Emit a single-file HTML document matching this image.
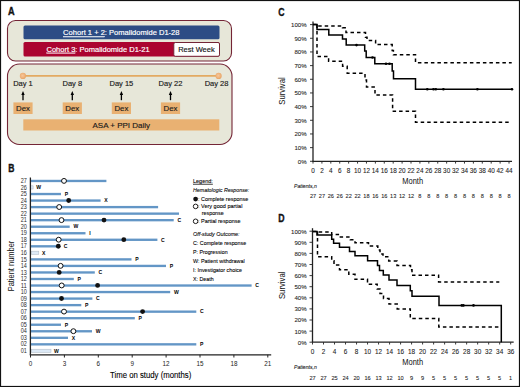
<!DOCTYPE html><html><head><meta charset="utf-8"><style>html,body{margin:0;padding:0;background:#fff;}svg{display:block;}text{font-family:"Liberation Sans", sans-serif;}</style></head><body>
<svg width="520" height="387" viewBox="0 0 520 387">
<rect x="0" y="0" width="520" height="387" fill="#fff"/>
<text x="8.1" y="14.7" font-size="10.2" fill="#111" text-anchor="start" font-weight="bold" font-style="normal" textLength="6.6" lengthAdjust="spacingAndGlyphs" stroke="#111" stroke-width="0.35">A</text>
<rect x="7.5" y="20.5" width="224" height="40.5" rx="8" fill="#e7e7d9" stroke="#742536" stroke-width="1.1"/>
<rect x="23.5" y="25.4" width="196" height="13.9" rx="1.5" fill="#2d4c85"/>
<rect x="23.5" y="42" width="196" height="14.5" rx="1.5" fill="#ab0430"/>
<rect x="173.8" y="42.5" width="45.7" height="13.8" rx="1.5" fill="#fff" stroke="#742536" stroke-width="1"/>
<text x="63.1" y="35.3" font-size="8.1" fill="#fff" stroke="#fff" stroke-width="0.18" textLength="116.4" lengthAdjust="spacingAndGlyphs"><tspan text-decoration="underline">Cohort 1 + 2</tspan>: Pomalidomide D1-28</text>
<text x="46.5" y="51.7" font-size="8.1" fill="#fff" stroke="#fff" stroke-width="0.18" textLength="103.2" lengthAdjust="spacingAndGlyphs"><tspan text-decoration="underline">Cohort 3</tspan>: Pomalidomide D1-21</text>
<text x="178.2" y="52.3" font-size="8.1" fill="#111" text-anchor="start" font-weight="normal" font-style="normal" textLength="36.5" lengthAdjust="spacingAndGlyphs" stroke="#111" stroke-width="0.15">Rest Week</text>
<rect x="7.5" y="64" width="224.5" height="80.5" rx="12" fill="#e7e7d9" stroke="#742536" stroke-width="1.1"/>
<defs><radialGradient id="dg" cx="0.45" cy="0.45" r="0.6"><stop offset="0" stop-color="#f6c79c"/><stop offset="0.6" stop-color="#efb27a"/><stop offset="1" stop-color="#e4a060"/></radialGradient></defs>
<line x1="23" y1="75.8" x2="218.7" y2="75.8" stroke="#e3aa62" stroke-width="1.7"/>
<circle cx="22.9" cy="75.9" r="3.1" fill="url(#dg)"/>
<circle cx="218.6" cy="75.9" r="3.1" fill="url(#dg)"/>
<text x="23" y="86.3" font-size="7.5" fill="#1a1a1a" text-anchor="middle" font-weight="normal" font-style="normal" stroke="#1a1a1a" stroke-width="0.15">Day 1</text>
<line x1="23" y1="100.2" x2="23" y2="94" stroke="#000" stroke-width="1.3"/>
<path d="M21.3,95 L23,90.9 L24.7,95 Z" fill="#000"/>
<rect x="13.4" y="102.4" width="19.2" height="11.6" fill="#e9b172"/>
<text x="23" y="110.9" font-size="7.8" fill="#1a1a1a" text-anchor="middle" font-weight="normal" font-style="normal" stroke="#1a1a1a" stroke-width="0.15">Dex</text>
<text x="72.3" y="86.3" font-size="7.5" fill="#1a1a1a" text-anchor="middle" font-weight="normal" font-style="normal" stroke="#1a1a1a" stroke-width="0.15">Day 8</text>
<line x1="72.3" y1="100.2" x2="72.3" y2="94" stroke="#000" stroke-width="1.3"/>
<path d="M70.6,95 L72.3,90.9 L74.0,95 Z" fill="#000"/>
<rect x="62.699999999999996" y="102.4" width="19.2" height="11.6" fill="#e9b172"/>
<text x="72.3" y="110.9" font-size="7.8" fill="#1a1a1a" text-anchor="middle" font-weight="normal" font-style="normal" stroke="#1a1a1a" stroke-width="0.15">Dex</text>
<text x="121.4" y="86.3" font-size="7.5" fill="#1a1a1a" text-anchor="middle" font-weight="normal" font-style="normal" stroke="#1a1a1a" stroke-width="0.15">Day 15</text>
<line x1="121.4" y1="100.2" x2="121.4" y2="94" stroke="#000" stroke-width="1.3"/>
<path d="M119.7,95 L121.4,90.9 L123.10000000000001,95 Z" fill="#000"/>
<rect x="111.80000000000001" y="102.4" width="19.2" height="11.6" fill="#e9b172"/>
<text x="121.4" y="110.9" font-size="7.8" fill="#1a1a1a" text-anchor="middle" font-weight="normal" font-style="normal" stroke="#1a1a1a" stroke-width="0.15">Dex</text>
<text x="170.5" y="86.3" font-size="7.5" fill="#1a1a1a" text-anchor="middle" font-weight="normal" font-style="normal" stroke="#1a1a1a" stroke-width="0.15">Day 22</text>
<line x1="170.5" y1="100.2" x2="170.5" y2="94" stroke="#000" stroke-width="1.3"/>
<path d="M168.8,95 L170.5,90.9 L172.2,95 Z" fill="#000"/>
<rect x="160.9" y="102.4" width="19.2" height="11.6" fill="#e9b172"/>
<text x="170.5" y="110.9" font-size="7.8" fill="#1a1a1a" text-anchor="middle" font-weight="normal" font-style="normal" stroke="#1a1a1a" stroke-width="0.15">Dex</text>
<text x="216.6" y="86.3" font-size="7.5" fill="#1a1a1a" text-anchor="middle" font-weight="normal" font-style="normal" stroke="#1a1a1a" stroke-width="0.15">Day 28</text>
<rect x="23.3" y="119.3" width="196" height="11.2" fill="#e9b172"/>
<text x="121.3" y="128.3" font-size="8" fill="#1a1a1a" text-anchor="middle" font-weight="normal" font-style="normal" stroke="#1a1a1a" stroke-width="0.15">ASA + PPI Daily</text>
<text x="8.3" y="171.5" font-size="10.2" fill="#111" text-anchor="start" font-weight="bold" font-style="normal" textLength="6.2" lengthAdjust="spacingAndGlyphs" stroke="#111" stroke-width="0.35">B</text>
<text x="26.9" y="183.09" font-size="6.6" fill="#2a2a2a" text-anchor="end" font-weight="normal" font-style="normal" textLength="6.1" lengthAdjust="spacingAndGlyphs" >27</text>
<rect x="31.0" y="179.79000000000002" width="75.4" height="2.35" fill="#6396c6"/>
<circle cx="64" cy="180.89000000000001" r="2.45" fill="#fff" stroke="#111" stroke-width="1.0"/>
<text x="26.9" y="189.625" font-size="6.6" fill="#2a2a2a" text-anchor="end" font-weight="normal" font-style="normal" textLength="6.1" lengthAdjust="spacingAndGlyphs" >26</text>
<rect x="30.8" y="185.82500000000002" width="2.2999999999999963" height="3.2" fill="#dce9f6" stroke="#aab6c2" stroke-width="0.5"/>
<text x="36.2" y="189.275" font-size="5.1" fill="#000" text-anchor="start" font-weight="bold" font-style="normal" >W</text>
<text x="26.9" y="196.16" font-size="6.6" fill="#2a2a2a" text-anchor="end" font-weight="normal" font-style="normal" textLength="6.1" lengthAdjust="spacingAndGlyphs" >25</text>
<rect x="31.0" y="192.86" width="30.0" height="2.35" fill="#6396c6"/>
<text x="64.7" y="195.81" font-size="5.1" fill="#000" text-anchor="start" font-weight="bold" font-style="normal" >P</text>
<text x="26.9" y="202.695" font-size="6.6" fill="#2a2a2a" text-anchor="end" font-weight="normal" font-style="normal" textLength="6.1" lengthAdjust="spacingAndGlyphs" >24</text>
<rect x="31.0" y="199.395" width="69.6" height="2.35" fill="#6396c6"/>
<circle cx="68.7" cy="200.495" r="2.4" fill="#111"/>
<text x="104.3" y="202.345" font-size="5.1" fill="#000" text-anchor="start" font-weight="bold" font-style="normal" >X</text>
<text x="26.9" y="209.23" font-size="6.6" fill="#2a2a2a" text-anchor="end" font-weight="normal" font-style="normal" textLength="6.1" lengthAdjust="spacingAndGlyphs" >23</text>
<rect x="31.0" y="205.93" width="127.1" height="2.35" fill="#6396c6"/>
<circle cx="59.2" cy="207.03" r="2.45" fill="#fff" stroke="#111" stroke-width="1.0"/>
<text x="26.9" y="215.765" font-size="6.6" fill="#2a2a2a" text-anchor="end" font-weight="normal" font-style="normal" textLength="6.1" lengthAdjust="spacingAndGlyphs" >22</text>
<rect x="31.0" y="212.465" width="148.0" height="2.35" fill="#6396c6"/>
<text x="26.9" y="222.3" font-size="6.6" fill="#2a2a2a" text-anchor="end" font-weight="normal" font-style="normal" textLength="6.1" lengthAdjust="spacingAndGlyphs" >21</text>
<rect x="31.0" y="219.00000000000003" width="142.7" height="2.35" fill="#6396c6"/>
<circle cx="61.5" cy="220.10000000000002" r="2.45" fill="#fff" stroke="#111" stroke-width="1.0"/>
<circle cx="104" cy="220.10000000000002" r="2.4" fill="#111"/>
<text x="177.39999999999998" y="221.95000000000002" font-size="5.1" fill="#000" text-anchor="start" font-weight="bold" font-style="normal" >C</text>
<text x="26.9" y="228.83499999999998" font-size="6.6" fill="#2a2a2a" text-anchor="end" font-weight="normal" font-style="normal" textLength="6.1" lengthAdjust="spacingAndGlyphs" >20</text>
<rect x="31.0" y="225.535" width="38.7" height="2.35" fill="#6396c6"/>
<text x="73.4" y="228.48499999999999" font-size="5.1" fill="#000" text-anchor="start" font-weight="bold" font-style="normal" >W</text>
<text x="26.9" y="235.37" font-size="6.6" fill="#2a2a2a" text-anchor="end" font-weight="normal" font-style="normal" textLength="6.1" lengthAdjust="spacingAndGlyphs" >19</text>
<rect x="31.0" y="232.07000000000002" width="54.5" height="2.35" fill="#6396c6"/>
<text x="89.2" y="235.02" font-size="5.1" fill="#000" text-anchor="start" font-weight="bold" font-style="normal" >I</text>
<text x="26.9" y="241.905" font-size="6.6" fill="#2a2a2a" text-anchor="end" font-weight="normal" font-style="normal" textLength="6.1" lengthAdjust="spacingAndGlyphs" >18</text>
<rect x="31.0" y="238.60500000000002" width="126.4" height="2.35" fill="#6396c6"/>
<circle cx="58.7" cy="239.705" r="2.45" fill="#fff" stroke="#111" stroke-width="1.0"/>
<circle cx="123.8" cy="239.705" r="2.4" fill="#111"/>
<text x="161.1" y="241.555" font-size="5.1" fill="#000" text-anchor="start" font-weight="bold" font-style="normal" >C</text>
<text x="26.9" y="248.44" font-size="6.6" fill="#2a2a2a" text-anchor="end" font-weight="normal" font-style="normal" textLength="6.1" lengthAdjust="spacingAndGlyphs" >17</text>
<rect x="31.0" y="245.14000000000001" width="26.6" height="2.35" fill="#6396c6"/>
<circle cx="58.3" cy="246.24" r="2.4" fill="#111"/>
<text x="63.8" y="248.09" font-size="5.1" fill="#000" text-anchor="start" font-weight="bold" font-style="normal" >C</text>
<text x="26.9" y="254.975" font-size="6.6" fill="#2a2a2a" text-anchor="end" font-weight="normal" font-style="normal" textLength="6.1" lengthAdjust="spacingAndGlyphs" >16</text>
<rect x="31.5" y="251.175" width="7.3" height="3.2" fill="#dce9f6" stroke="#aab6c2" stroke-width="0.5"/>
<text x="42" y="254.625" font-size="5.1" fill="#000" text-anchor="start" font-weight="bold" font-style="normal" >X</text>
<text x="26.9" y="261.51" font-size="6.6" fill="#2a2a2a" text-anchor="end" font-weight="normal" font-style="normal" textLength="6.1" lengthAdjust="spacingAndGlyphs" >15</text>
<rect x="31.0" y="258.21" width="100.5" height="2.35" fill="#6396c6"/>
<text x="135.2" y="261.16" font-size="5.1" fill="#000" text-anchor="start" font-weight="bold" font-style="normal" >P</text>
<text x="26.9" y="268.045" font-size="6.6" fill="#2a2a2a" text-anchor="end" font-weight="normal" font-style="normal" textLength="6.1" lengthAdjust="spacingAndGlyphs" >14</text>
<rect x="31.0" y="264.745" width="135.0" height="2.35" fill="#6396c6"/>
<circle cx="60.6" cy="265.845" r="2.45" fill="#fff" stroke="#111" stroke-width="1.0"/>
<text x="169.7" y="267.69500000000005" font-size="5.1" fill="#000" text-anchor="start" font-weight="bold" font-style="normal" >P</text>
<text x="26.9" y="274.58" font-size="6.6" fill="#2a2a2a" text-anchor="end" font-weight="normal" font-style="normal" textLength="6.1" lengthAdjust="spacingAndGlyphs" >13</text>
<rect x="31.0" y="271.28" width="63.8" height="2.35" fill="#6396c6"/>
<circle cx="59.2" cy="272.38" r="2.4" fill="#111"/>
<text x="98.5" y="274.23" font-size="5.1" fill="#000" text-anchor="start" font-weight="bold" font-style="normal" >C</text>
<text x="26.9" y="281.115" font-size="6.6" fill="#2a2a2a" text-anchor="end" font-weight="normal" font-style="normal" textLength="6.1" lengthAdjust="spacingAndGlyphs" >12</text>
<rect x="31.0" y="277.815" width="42.8" height="2.35" fill="#6396c6"/>
<text x="77.5" y="280.76500000000004" font-size="5.1" fill="#000" text-anchor="start" font-weight="bold" font-style="normal" >P</text>
<text x="26.9" y="287.65000000000003" font-size="6.6" fill="#2a2a2a" text-anchor="end" font-weight="normal" font-style="normal" textLength="6.1" lengthAdjust="spacingAndGlyphs" >11</text>
<rect x="31.0" y="284.35" width="220.6" height="2.35" fill="#6396c6"/>
<circle cx="61.7" cy="285.45000000000005" r="2.45" fill="#fff" stroke="#111" stroke-width="1.0"/>
<circle cx="97.6" cy="285.45000000000005" r="2.4" fill="#111"/>
<text x="255.29999999999998" y="287.30000000000007" font-size="5.1" fill="#000" text-anchor="start" font-weight="bold" font-style="normal" >C</text>
<text x="26.9" y="294.185" font-size="6.6" fill="#2a2a2a" text-anchor="end" font-weight="normal" font-style="normal" textLength="6.1" lengthAdjust="spacingAndGlyphs" >10</text>
<rect x="31.0" y="290.885" width="139.2" height="2.35" fill="#6396c6"/>
<text x="173.89999999999998" y="293.83500000000004" font-size="5.1" fill="#000" text-anchor="start" font-weight="bold" font-style="normal" >W</text>
<text x="26.9" y="300.71999999999997" font-size="6.6" fill="#2a2a2a" text-anchor="end" font-weight="normal" font-style="normal" textLength="6.1" lengthAdjust="spacingAndGlyphs" >09</text>
<rect x="31.0" y="297.41999999999996" width="61.400000000000006" height="2.35" fill="#6396c6"/>
<circle cx="61.5" cy="298.52" r="2.4" fill="#111"/>
<text x="96.10000000000001" y="300.37" font-size="5.1" fill="#000" text-anchor="start" font-weight="bold" font-style="normal" >C</text>
<text x="26.9" y="307.255" font-size="6.6" fill="#2a2a2a" text-anchor="end" font-weight="normal" font-style="normal" textLength="6.1" lengthAdjust="spacingAndGlyphs" >08</text>
<rect x="31.0" y="303.955" width="50.3" height="2.35" fill="#6396c6"/>
<text x="85.0" y="306.90500000000003" font-size="5.1" fill="#000" text-anchor="start" font-weight="bold" font-style="normal" >P</text>
<text x="26.9" y="313.79" font-size="6.6" fill="#2a2a2a" text-anchor="end" font-weight="normal" font-style="normal" textLength="6.1" lengthAdjust="spacingAndGlyphs" >07</text>
<rect x="31.0" y="310.49" width="165.3" height="2.35" fill="#6396c6"/>
<circle cx="64" cy="311.59000000000003" r="2.45" fill="#fff" stroke="#111" stroke-width="1.0"/>
<circle cx="142.6" cy="311.59000000000003" r="2.4" fill="#111"/>
<text x="200.0" y="313.44000000000005" font-size="5.1" fill="#000" text-anchor="start" font-weight="bold" font-style="normal" >C</text>
<text x="26.9" y="320.325" font-size="6.6" fill="#2a2a2a" text-anchor="end" font-weight="normal" font-style="normal" textLength="6.1" lengthAdjust="spacingAndGlyphs" >06</text>
<rect x="31.0" y="317.025" width="103.80000000000001" height="2.35" fill="#6396c6"/>
<text x="138.5" y="319.975" font-size="5.1" fill="#000" text-anchor="start" font-weight="bold" font-style="normal" >P</text>
<text x="26.9" y="326.86" font-size="6.6" fill="#2a2a2a" text-anchor="end" font-weight="normal" font-style="normal" textLength="6.1" lengthAdjust="spacingAndGlyphs" >05</text>
<rect x="31.0" y="323.56" width="30.0" height="2.35" fill="#6396c6"/>
<text x="64.7" y="326.51000000000005" font-size="5.1" fill="#000" text-anchor="start" font-weight="bold" font-style="normal" >P</text>
<text x="26.9" y="333.395" font-size="6.6" fill="#2a2a2a" text-anchor="end" font-weight="normal" font-style="normal" textLength="6.1" lengthAdjust="spacingAndGlyphs" >04</text>
<rect x="31.0" y="330.09499999999997" width="61.0" height="2.35" fill="#6396c6"/>
<circle cx="73.4" cy="331.195" r="2.45" fill="#fff" stroke="#111" stroke-width="1.0"/>
<text x="95.7" y="333.045" font-size="5.1" fill="#000" text-anchor="start" font-weight="bold" font-style="normal" >W</text>
<text x="26.9" y="339.93" font-size="6.6" fill="#2a2a2a" text-anchor="end" font-weight="normal" font-style="normal" textLength="6.1" lengthAdjust="spacingAndGlyphs" >03</text>
<rect x="31.0" y="336.63" width="37.0" height="2.35" fill="#6396c6"/>
<text x="71.7" y="339.58000000000004" font-size="5.1" fill="#000" text-anchor="start" font-weight="bold" font-style="normal" >X</text>
<text x="26.9" y="346.465" font-size="6.6" fill="#2a2a2a" text-anchor="end" font-weight="normal" font-style="normal" textLength="6.1" lengthAdjust="spacingAndGlyphs" >02</text>
<rect x="31.0" y="343.16499999999996" width="165.3" height="2.35" fill="#6396c6"/>
<text x="200.0" y="346.115" font-size="5.1" fill="#000" text-anchor="start" font-weight="bold" font-style="normal" >P</text>
<text x="26.9" y="353.0" font-size="6.6" fill="#2a2a2a" text-anchor="end" font-weight="normal" font-style="normal" textLength="6.1" lengthAdjust="spacingAndGlyphs" >01</text>
<rect x="31.4" y="349.2" width="19.600000000000005" height="3.2" fill="#dce9f6" stroke="#aab6c2" stroke-width="0.5"/>
<text x="54" y="352.65000000000003" font-size="5.1" fill="#000" text-anchor="start" font-weight="bold" font-style="normal" >W</text>
<line x1="30.4" y1="177.5" x2="30.4" y2="354.8" stroke="#222" stroke-width="1.3"/>
<line x1="29.8" y1="354.8" x2="271.2" y2="354.8" stroke="#222" stroke-width="1.3"/>
<line x1="30.5" y1="354.8" x2="30.5" y2="357.5" stroke="#222" stroke-width="1"/>
<text x="30.5" y="366" font-size="6.3" fill="#222" text-anchor="middle" font-weight="normal" font-style="normal" >0</text>
<line x1="64.4" y1="354.8" x2="64.4" y2="357.5" stroke="#222" stroke-width="1"/>
<text x="64.4" y="366" font-size="6.3" fill="#222" text-anchor="middle" font-weight="normal" font-style="normal" >3</text>
<line x1="98.3" y1="354.8" x2="98.3" y2="357.5" stroke="#222" stroke-width="1"/>
<text x="98.3" y="366" font-size="6.3" fill="#222" text-anchor="middle" font-weight="normal" font-style="normal" >6</text>
<line x1="132.2" y1="354.8" x2="132.2" y2="357.5" stroke="#222" stroke-width="1"/>
<text x="132.2" y="366" font-size="6.3" fill="#222" text-anchor="middle" font-weight="normal" font-style="normal" >9</text>
<line x1="166.1" y1="354.8" x2="166.1" y2="357.5" stroke="#222" stroke-width="1"/>
<text x="166.1" y="366" font-size="6.3" fill="#222" text-anchor="middle" font-weight="normal" font-style="normal" >12</text>
<line x1="200.0" y1="354.8" x2="200.0" y2="357.5" stroke="#222" stroke-width="1"/>
<text x="200.0" y="366" font-size="6.3" fill="#222" text-anchor="middle" font-weight="normal" font-style="normal" >15</text>
<line x1="233.89999999999998" y1="354.8" x2="233.89999999999998" y2="357.5" stroke="#222" stroke-width="1"/>
<text x="233.89999999999998" y="366" font-size="6.3" fill="#222" text-anchor="middle" font-weight="normal" font-style="normal" >18</text>
<line x1="267.79999999999995" y1="354.8" x2="267.79999999999995" y2="357.5" stroke="#222" stroke-width="1"/>
<text x="267.79999999999995" y="366" font-size="6.3" fill="#222" text-anchor="middle" font-weight="normal" font-style="normal" >21</text>
<text x="110" y="378" font-size="8.3" fill="#000" text-anchor="start" font-weight="normal" font-style="normal" textLength="81.3" lengthAdjust="spacingAndGlyphs" stroke="#000" stroke-width="0.1">Time on study (months)</text>
<text x="0" y="0" font-size="8.9" fill="#111" text-anchor="middle" textLength="50.7" lengthAdjust="spacingAndGlyphs" transform="translate(14.3,266) rotate(-90)">Patient number</text>
<text x="193" y="182.9" font-size="6.2" fill="#000" stroke="#000" stroke-width="0.1" text-decoration="underline" textLength="19.9" lengthAdjust="spacingAndGlyphs">Legend:</text>
<text x="193" y="191.7" font-size="6.2" fill="#000" text-anchor="start" font-weight="normal" font-style="italic" textLength="56.3" lengthAdjust="spacingAndGlyphs" stroke="#000" stroke-width="0.1">Hematologic Response:</text>
<circle cx="195.6" cy="199.1" r="2.4" fill="#111"/>
<text x="198" y="201.1" font-size="6.2" fill="#000" text-anchor="start" font-weight="normal" font-style="normal" textLength="50.3" lengthAdjust="spacingAndGlyphs" stroke="#000" stroke-width="0.1">: Complete response</text>
<circle cx="195.6" cy="206.4" r="2.3" fill="#fff" stroke="#111" stroke-width="0.95"/>
<text x="198" y="208.4" font-size="6.2" fill="#000" text-anchor="start" font-weight="normal" font-style="normal" textLength="44.4" lengthAdjust="spacingAndGlyphs" stroke="#000" stroke-width="0.1">: Very good partial</text>
<text x="201.7" y="215.1" font-size="6.2" fill="#000" text-anchor="start" font-weight="normal" font-style="normal" textLength="22.1" lengthAdjust="spacingAndGlyphs" stroke="#000" stroke-width="0.1">response</text>
<circle cx="195.6" cy="221.3" r="2.3" fill="#fff" stroke="#111" stroke-width="0.95"/>
<text x="198" y="223.3" font-size="6.2" fill="#000" text-anchor="start" font-weight="normal" font-style="normal" textLength="42.5" lengthAdjust="spacingAndGlyphs" stroke="#000" stroke-width="0.1">: Partial response</text>
<text x="193" y="236.3" font-size="6.2" fill="#000" text-anchor="start" font-weight="normal" font-style="italic" textLength="46.6" lengthAdjust="spacingAndGlyphs" stroke="#000" stroke-width="0.1">Off-study Outcome:</text>
<text x="193" y="245.3" font-size="6.2" fill="#000" text-anchor="start" font-weight="normal" font-style="normal" textLength="53.2" lengthAdjust="spacingAndGlyphs" stroke="#000" stroke-width="0.1">C: Complete response</text>
<text x="193" y="254.4" font-size="6.2" fill="#000" text-anchor="start" font-weight="normal" font-style="normal" textLength="34.6" lengthAdjust="spacingAndGlyphs" stroke="#000" stroke-width="0.1">P: Progression</text>
<text x="193" y="263.1" font-size="6.2" fill="#000" text-anchor="start" font-weight="normal" font-style="normal" textLength="51.7" lengthAdjust="spacingAndGlyphs" stroke="#000" stroke-width="0.1">W: Patient withdrawal</text>
<text x="193" y="272" font-size="6.2" fill="#000" text-anchor="start" font-weight="normal" font-style="normal" textLength="49" lengthAdjust="spacingAndGlyphs" stroke="#000" stroke-width="0.1">I: Investigator choice</text>
<text x="193" y="281" font-size="6.2" fill="#000" text-anchor="start" font-weight="normal" font-style="normal" textLength="20.7" lengthAdjust="spacingAndGlyphs" stroke="#000" stroke-width="0.1">X: Death</text>
<text x="278.2" y="15.5" font-size="10.2" fill="#111" text-anchor="start" font-weight="bold" font-style="normal" textLength="6.3" lengthAdjust="spacingAndGlyphs" stroke="#111" stroke-width="0.35">C</text>
<line x1="313" y1="21.6" x2="313" y2="161.3" stroke="#222" stroke-width="1.3"/>
<line x1="312.4" y1="161.3" x2="512.02" y2="161.3" stroke="#222" stroke-width="1.3"/>
<line x1="310" y1="161.3" x2="313" y2="161.3" stroke="#222" stroke-width="0.9"/>
<text x="306.6" y="163.70000000000002" font-size="6.1" fill="#222" text-anchor="end" font-weight="normal" font-style="normal" stroke="#222" stroke-width="0.08">0%</text>
<line x1="310" y1="147.63" x2="313" y2="147.63" stroke="#222" stroke-width="0.9"/>
<text x="306.6" y="150.03" font-size="6.1" fill="#222" text-anchor="end" font-weight="normal" font-style="normal" stroke="#222" stroke-width="0.08">10%</text>
<line x1="310" y1="133.96" x2="313" y2="133.96" stroke="#222" stroke-width="0.9"/>
<text x="306.6" y="136.36" font-size="6.1" fill="#222" text-anchor="end" font-weight="normal" font-style="normal" stroke="#222" stroke-width="0.08">20%</text>
<line x1="310" y1="120.29" x2="313" y2="120.29" stroke="#222" stroke-width="0.9"/>
<text x="306.6" y="122.69000000000001" font-size="6.1" fill="#222" text-anchor="end" font-weight="normal" font-style="normal" stroke="#222" stroke-width="0.08">30%</text>
<line x1="310" y1="106.62" x2="313" y2="106.62" stroke="#222" stroke-width="0.9"/>
<text x="306.6" y="109.02000000000001" font-size="6.1" fill="#222" text-anchor="end" font-weight="normal" font-style="normal" stroke="#222" stroke-width="0.08">40%</text>
<line x1="310" y1="92.95" x2="313" y2="92.95" stroke="#222" stroke-width="0.9"/>
<text x="306.6" y="95.35000000000001" font-size="6.1" fill="#222" text-anchor="end" font-weight="normal" font-style="normal" stroke="#222" stroke-width="0.08">50%</text>
<line x1="310" y1="79.28" x2="313" y2="79.28" stroke="#222" stroke-width="0.9"/>
<text x="306.6" y="81.68" font-size="6.1" fill="#222" text-anchor="end" font-weight="normal" font-style="normal" stroke="#222" stroke-width="0.08">60%</text>
<line x1="310" y1="65.61" x2="313" y2="65.61" stroke="#222" stroke-width="0.9"/>
<text x="306.6" y="68.01" font-size="6.1" fill="#222" text-anchor="end" font-weight="normal" font-style="normal" stroke="#222" stroke-width="0.08">70%</text>
<line x1="310" y1="51.94" x2="313" y2="51.94" stroke="#222" stroke-width="0.9"/>
<text x="306.6" y="54.339999999999996" font-size="6.1" fill="#222" text-anchor="end" font-weight="normal" font-style="normal" stroke="#222" stroke-width="0.08">80%</text>
<line x1="310" y1="38.269999999999996" x2="313" y2="38.269999999999996" stroke="#222" stroke-width="0.9"/>
<text x="306.6" y="40.669999999999995" font-size="6.1" fill="#222" text-anchor="end" font-weight="normal" font-style="normal" stroke="#222" stroke-width="0.08">90%</text>
<line x1="310" y1="24.599999999999994" x2="313" y2="24.599999999999994" stroke="#222" stroke-width="0.9"/>
<text x="306.6" y="26.999999999999993" font-size="6.1" fill="#222" text-anchor="end" font-weight="normal" font-style="normal" stroke="#222" stroke-width="0.08">100%</text>
<line x1="313.0" y1="161.3" x2="313.0" y2="163.60000000000002" stroke="#222" stroke-width="0.9"/>
<text x="313.0" y="173.10000000000002" font-size="6.4" fill="#222" text-anchor="middle" font-weight="normal" font-style="normal" stroke="#222" stroke-width="0.08">0</text>
<line x1="321.91" y1="161.3" x2="321.91" y2="163.60000000000002" stroke="#222" stroke-width="0.9"/>
<text x="321.91" y="173.10000000000002" font-size="6.4" fill="#222" text-anchor="middle" font-weight="normal" font-style="normal" stroke="#222" stroke-width="0.08">2</text>
<line x1="330.82" y1="161.3" x2="330.82" y2="163.60000000000002" stroke="#222" stroke-width="0.9"/>
<text x="330.82" y="173.10000000000002" font-size="6.4" fill="#222" text-anchor="middle" font-weight="normal" font-style="normal" stroke="#222" stroke-width="0.08">4</text>
<line x1="339.73" y1="161.3" x2="339.73" y2="163.60000000000002" stroke="#222" stroke-width="0.9"/>
<text x="339.73" y="173.10000000000002" font-size="6.4" fill="#222" text-anchor="middle" font-weight="normal" font-style="normal" stroke="#222" stroke-width="0.08">6</text>
<line x1="348.64" y1="161.3" x2="348.64" y2="163.60000000000002" stroke="#222" stroke-width="0.9"/>
<text x="348.64" y="173.10000000000002" font-size="6.4" fill="#222" text-anchor="middle" font-weight="normal" font-style="normal" stroke="#222" stroke-width="0.08">8</text>
<line x1="357.55" y1="161.3" x2="357.55" y2="163.60000000000002" stroke="#222" stroke-width="0.9"/>
<text x="357.55" y="173.10000000000002" font-size="6.4" fill="#222" text-anchor="middle" font-weight="normal" font-style="normal" stroke="#222" stroke-width="0.08">10</text>
<line x1="366.46" y1="161.3" x2="366.46" y2="163.60000000000002" stroke="#222" stroke-width="0.9"/>
<text x="366.46" y="173.10000000000002" font-size="6.4" fill="#222" text-anchor="middle" font-weight="normal" font-style="normal" stroke="#222" stroke-width="0.08">12</text>
<line x1="375.37" y1="161.3" x2="375.37" y2="163.60000000000002" stroke="#222" stroke-width="0.9"/>
<text x="375.37" y="173.10000000000002" font-size="6.4" fill="#222" text-anchor="middle" font-weight="normal" font-style="normal" stroke="#222" stroke-width="0.08">14</text>
<line x1="384.28" y1="161.3" x2="384.28" y2="163.60000000000002" stroke="#222" stroke-width="0.9"/>
<text x="384.28" y="173.10000000000002" font-size="6.4" fill="#222" text-anchor="middle" font-weight="normal" font-style="normal" stroke="#222" stroke-width="0.08">16</text>
<line x1="393.19" y1="161.3" x2="393.19" y2="163.60000000000002" stroke="#222" stroke-width="0.9"/>
<text x="393.19" y="173.10000000000002" font-size="6.4" fill="#222" text-anchor="middle" font-weight="normal" font-style="normal" stroke="#222" stroke-width="0.08">18</text>
<line x1="402.1" y1="161.3" x2="402.1" y2="163.60000000000002" stroke="#222" stroke-width="0.9"/>
<text x="402.1" y="173.10000000000002" font-size="6.4" fill="#222" text-anchor="middle" font-weight="normal" font-style="normal" stroke="#222" stroke-width="0.08">20</text>
<line x1="411.01" y1="161.3" x2="411.01" y2="163.60000000000002" stroke="#222" stroke-width="0.9"/>
<text x="411.01" y="173.10000000000002" font-size="6.4" fill="#222" text-anchor="middle" font-weight="normal" font-style="normal" stroke="#222" stroke-width="0.08">22</text>
<line x1="419.92" y1="161.3" x2="419.92" y2="163.60000000000002" stroke="#222" stroke-width="0.9"/>
<text x="419.92" y="173.10000000000002" font-size="6.4" fill="#222" text-anchor="middle" font-weight="normal" font-style="normal" stroke="#222" stroke-width="0.08">24</text>
<line x1="428.83" y1="161.3" x2="428.83" y2="163.60000000000002" stroke="#222" stroke-width="0.9"/>
<text x="428.83" y="173.10000000000002" font-size="6.4" fill="#222" text-anchor="middle" font-weight="normal" font-style="normal" stroke="#222" stroke-width="0.08">26</text>
<line x1="437.74" y1="161.3" x2="437.74" y2="163.60000000000002" stroke="#222" stroke-width="0.9"/>
<text x="437.74" y="173.10000000000002" font-size="6.4" fill="#222" text-anchor="middle" font-weight="normal" font-style="normal" stroke="#222" stroke-width="0.08">28</text>
<line x1="446.65" y1="161.3" x2="446.65" y2="163.60000000000002" stroke="#222" stroke-width="0.9"/>
<text x="446.65" y="173.10000000000002" font-size="6.4" fill="#222" text-anchor="middle" font-weight="normal" font-style="normal" stroke="#222" stroke-width="0.08">30</text>
<line x1="455.56" y1="161.3" x2="455.56" y2="163.60000000000002" stroke="#222" stroke-width="0.9"/>
<text x="455.56" y="173.10000000000002" font-size="6.4" fill="#222" text-anchor="middle" font-weight="normal" font-style="normal" stroke="#222" stroke-width="0.08">32</text>
<line x1="464.47" y1="161.3" x2="464.47" y2="163.60000000000002" stroke="#222" stroke-width="0.9"/>
<text x="464.47" y="173.10000000000002" font-size="6.4" fill="#222" text-anchor="middle" font-weight="normal" font-style="normal" stroke="#222" stroke-width="0.08">34</text>
<line x1="473.38" y1="161.3" x2="473.38" y2="163.60000000000002" stroke="#222" stroke-width="0.9"/>
<text x="473.38" y="173.10000000000002" font-size="6.4" fill="#222" text-anchor="middle" font-weight="normal" font-style="normal" stroke="#222" stroke-width="0.08">36</text>
<line x1="482.28999999999996" y1="161.3" x2="482.28999999999996" y2="163.60000000000002" stroke="#222" stroke-width="0.9"/>
<text x="482.28999999999996" y="173.10000000000002" font-size="6.4" fill="#222" text-anchor="middle" font-weight="normal" font-style="normal" stroke="#222" stroke-width="0.08">38</text>
<line x1="491.2" y1="161.3" x2="491.2" y2="163.60000000000002" stroke="#222" stroke-width="0.9"/>
<text x="491.2" y="173.10000000000002" font-size="6.4" fill="#222" text-anchor="middle" font-weight="normal" font-style="normal" stroke="#222" stroke-width="0.08">40</text>
<line x1="500.11" y1="161.3" x2="500.11" y2="163.60000000000002" stroke="#222" stroke-width="0.9"/>
<text x="500.11" y="173.10000000000002" font-size="6.4" fill="#222" text-anchor="middle" font-weight="normal" font-style="normal" stroke="#222" stroke-width="0.08">42</text>
<line x1="509.02" y1="161.3" x2="509.02" y2="163.60000000000002" stroke="#222" stroke-width="0.9"/>
<text x="509.02" y="173.10000000000002" font-size="6.4" fill="#222" text-anchor="middle" font-weight="normal" font-style="normal" stroke="#222" stroke-width="0.08">44</text>
<text x="412.7" y="184" font-size="9" fill="#111" text-anchor="middle" font-weight="normal" font-style="normal" textLength="20.8" lengthAdjust="spacingAndGlyphs" >Month</text>
<text x="0" y="0" font-size="8.9" fill="#111" text-anchor="middle" textLength="27.5" lengthAdjust="spacingAndGlyphs" transform="translate(284.8,91) rotate(-90)">Survival</text>
<text x="294" y="187.6" font-size="5.2" fill="#111" text-anchor="start" font-weight="normal" font-style="italic" textLength="22.8" lengthAdjust="spacingAndGlyphs" stroke="#111" stroke-width="0.08">Patients,n</text>
<text x="313.0" y="198.2" font-size="5.6" fill="#222" text-anchor="middle" font-weight="normal" font-style="normal" stroke="#222" stroke-width="0.08">27</text>
<text x="321.91" y="198.2" font-size="5.6" fill="#222" text-anchor="middle" font-weight="normal" font-style="normal" stroke="#222" stroke-width="0.08">27</text>
<text x="330.82" y="198.2" font-size="5.6" fill="#222" text-anchor="middle" font-weight="normal" font-style="normal" stroke="#222" stroke-width="0.08">26</text>
<text x="339.73" y="198.2" font-size="5.6" fill="#222" text-anchor="middle" font-weight="normal" font-style="normal" stroke="#222" stroke-width="0.08">26</text>
<text x="348.64" y="198.2" font-size="5.6" fill="#222" text-anchor="middle" font-weight="normal" font-style="normal" stroke="#222" stroke-width="0.08">22</text>
<text x="357.55" y="198.2" font-size="5.6" fill="#222" text-anchor="middle" font-weight="normal" font-style="normal" stroke="#222" stroke-width="0.08">22</text>
<text x="366.46" y="198.2" font-size="5.6" fill="#222" text-anchor="middle" font-weight="normal" font-style="normal" stroke="#222" stroke-width="0.08">18</text>
<text x="375.37" y="198.2" font-size="5.6" fill="#222" text-anchor="middle" font-weight="normal" font-style="normal" stroke="#222" stroke-width="0.08">16</text>
<text x="384.28" y="198.2" font-size="5.6" fill="#222" text-anchor="middle" font-weight="normal" font-style="normal" stroke="#222" stroke-width="0.08">16</text>
<text x="393.19" y="198.2" font-size="5.6" fill="#222" text-anchor="middle" font-weight="normal" font-style="normal" stroke="#222" stroke-width="0.08">13</text>
<text x="402.1" y="198.2" font-size="5.6" fill="#222" text-anchor="middle" font-weight="normal" font-style="normal" stroke="#222" stroke-width="0.08">12</text>
<text x="411.01" y="198.2" font-size="5.6" fill="#222" text-anchor="middle" font-weight="normal" font-style="normal" stroke="#222" stroke-width="0.08">12</text>
<text x="419.92" y="198.2" font-size="5.6" fill="#222" text-anchor="middle" font-weight="normal" font-style="normal" stroke="#222" stroke-width="0.08">8</text>
<text x="428.83" y="198.2" font-size="5.6" fill="#222" text-anchor="middle" font-weight="normal" font-style="normal" stroke="#222" stroke-width="0.08">8</text>
<text x="437.74" y="198.2" font-size="5.6" fill="#222" text-anchor="middle" font-weight="normal" font-style="normal" stroke="#222" stroke-width="0.08">8</text>
<text x="446.65" y="198.2" font-size="5.6" fill="#222" text-anchor="middle" font-weight="normal" font-style="normal" stroke="#222" stroke-width="0.08">8</text>
<text x="455.56" y="198.2" font-size="5.6" fill="#222" text-anchor="middle" font-weight="normal" font-style="normal" stroke="#222" stroke-width="0.08">8</text>
<text x="464.47" y="198.2" font-size="5.6" fill="#222" text-anchor="middle" font-weight="normal" font-style="normal" stroke="#222" stroke-width="0.08">8</text>
<text x="473.38" y="198.2" font-size="5.6" fill="#222" text-anchor="middle" font-weight="normal" font-style="normal" stroke="#222" stroke-width="0.08">8</text>
<text x="482.28999999999996" y="198.2" font-size="5.6" fill="#222" text-anchor="middle" font-weight="normal" font-style="normal" stroke="#222" stroke-width="0.08">8</text>
<text x="491.2" y="198.2" font-size="5.6" fill="#222" text-anchor="middle" font-weight="normal" font-style="normal" stroke="#222" stroke-width="0.08">8</text>
<text x="500.11" y="198.2" font-size="5.6" fill="#222" text-anchor="middle" font-weight="normal" font-style="normal" stroke="#222" stroke-width="0.08">8</text>
<text x="509.02" y="198.2" font-size="5.6" fill="#222" text-anchor="middle" font-weight="normal" font-style="normal" stroke="#222" stroke-width="0.08">8</text>
<path d="M313,24.6 L317,24.6 L317,29.5 L328.8,29.5 L328.8,35 L342.5,35 L342.5,39.1 L346.2,39.1 L346.2,45.1 L364.7,45.1 L364.7,51 L366.2,51 L366.2,57.5 L374.8,57.5 L374.8,63.7 L392.2,63.7 L392.2,71 L393.5,71 L393.5,78.7 L415.5,78.7 L415.5,89.2 L512.2,89.2" fill="none" stroke="#000" stroke-width="1.5"/>
<path d="M313,24.6 L317,24.6 L317,25.9 L342.5,25.9 L342.5,27.7 L346,27.7 L346,32.6 L365.5,32.6 L365.5,37.3 L367,37.3 L367,40.4 L375.6,40.4 L375.6,44.6 L392.2,44.6 L392.2,50.5 L393.4,50.5 L393.4,54.8 L415.5,54.8 L415.5,62.7 L511.7,62.7" fill="none" stroke="#000" stroke-width="1.5" stroke-dasharray="3.5,3"/>
<path d="M317,24.4 L317,24.4 L317,56.4 L328.6,56.4 L328.6,61.2 L342.6,61.2 L342.6,66.2 L347.2,66.2 L347.2,73.3 L365,73.3 L365,80 L366.5,80 L366.5,87 L375,87 L375,95 L392.6,95 L392.6,111.3 L415.5,111.3 L415.5,122.2 L511.7,122.2" fill="none" stroke="#000" stroke-width="1.5" stroke-dasharray="3.5,3"/>
<circle cx="356.5" cy="45.1" r="1.3" fill="#000"/>
<circle cx="372.5" cy="57.5" r="1.3" fill="#000"/>
<circle cx="386" cy="63.7" r="1.3" fill="#000"/>
<circle cx="389.5" cy="63.7" r="1.3" fill="#000"/>
<circle cx="427.3" cy="89.2" r="1.3" fill="#000"/>
<circle cx="433.5" cy="89.2" r="1.3" fill="#000"/>
<circle cx="435.8" cy="89.2" r="1.3" fill="#000"/>
<circle cx="443.4" cy="89.2" r="1.3" fill="#000"/>
<circle cx="477.4" cy="89.2" r="1.3" fill="#000"/>
<circle cx="512" cy="89.2" r="1.3" fill="#000"/>
<text x="278.2" y="222" font-size="10.2" fill="#111" text-anchor="start" font-weight="bold" font-style="normal" textLength="6.3" lengthAdjust="spacingAndGlyphs" stroke="#111" stroke-width="0.35">D</text>
<line x1="312.5" y1="228.2" x2="312.5" y2="342.2" stroke="#222" stroke-width="1.3"/>
<line x1="311.9" y1="342.2" x2="513.6800000000001" y2="342.2" stroke="#222" stroke-width="1.3"/>
<line x1="309.5" y1="342.2" x2="312.5" y2="342.2" stroke="#222" stroke-width="0.9"/>
<text x="306.6" y="344.59999999999997" font-size="6.1" fill="#222" text-anchor="end" font-weight="normal" font-style="normal" stroke="#222" stroke-width="0.08">0%</text>
<line x1="309.5" y1="331.09999999999997" x2="312.5" y2="331.09999999999997" stroke="#222" stroke-width="0.9"/>
<text x="306.6" y="333.49999999999994" font-size="6.1" fill="#222" text-anchor="end" font-weight="normal" font-style="normal" stroke="#222" stroke-width="0.08">10%</text>
<line x1="309.5" y1="320.0" x2="312.5" y2="320.0" stroke="#222" stroke-width="0.9"/>
<text x="306.6" y="322.4" font-size="6.1" fill="#222" text-anchor="end" font-weight="normal" font-style="normal" stroke="#222" stroke-width="0.08">20%</text>
<line x1="309.5" y1="308.9" x2="312.5" y2="308.9" stroke="#222" stroke-width="0.9"/>
<text x="306.6" y="311.29999999999995" font-size="6.1" fill="#222" text-anchor="end" font-weight="normal" font-style="normal" stroke="#222" stroke-width="0.08">30%</text>
<line x1="309.5" y1="297.8" x2="312.5" y2="297.8" stroke="#222" stroke-width="0.9"/>
<text x="306.6" y="300.2" font-size="6.1" fill="#222" text-anchor="end" font-weight="normal" font-style="normal" stroke="#222" stroke-width="0.08">40%</text>
<line x1="309.5" y1="286.7" x2="312.5" y2="286.7" stroke="#222" stroke-width="0.9"/>
<text x="306.6" y="289.09999999999997" font-size="6.1" fill="#222" text-anchor="end" font-weight="normal" font-style="normal" stroke="#222" stroke-width="0.08">50%</text>
<line x1="309.5" y1="275.6" x2="312.5" y2="275.6" stroke="#222" stroke-width="0.9"/>
<text x="306.6" y="278.0" font-size="6.1" fill="#222" text-anchor="end" font-weight="normal" font-style="normal" stroke="#222" stroke-width="0.08">60%</text>
<line x1="309.5" y1="264.5" x2="312.5" y2="264.5" stroke="#222" stroke-width="0.9"/>
<text x="306.6" y="266.9" font-size="6.1" fill="#222" text-anchor="end" font-weight="normal" font-style="normal" stroke="#222" stroke-width="0.08">70%</text>
<line x1="309.5" y1="253.39999999999998" x2="312.5" y2="253.39999999999998" stroke="#222" stroke-width="0.9"/>
<text x="306.6" y="255.79999999999998" font-size="6.1" fill="#222" text-anchor="end" font-weight="normal" font-style="normal" stroke="#222" stroke-width="0.08">80%</text>
<line x1="309.5" y1="242.29999999999998" x2="312.5" y2="242.29999999999998" stroke="#222" stroke-width="0.9"/>
<text x="306.6" y="244.7" font-size="6.1" fill="#222" text-anchor="end" font-weight="normal" font-style="normal" stroke="#222" stroke-width="0.08">90%</text>
<line x1="309.5" y1="231.2" x2="312.5" y2="231.2" stroke="#222" stroke-width="0.9"/>
<text x="306.6" y="233.6" font-size="6.1" fill="#222" text-anchor="end" font-weight="normal" font-style="normal" stroke="#222" stroke-width="0.08">100%</text>
<line x1="312.5" y1="342.2" x2="312.5" y2="344.5" stroke="#222" stroke-width="0.9"/>
<text x="312.5" y="354.0" font-size="6.4" fill="#222" text-anchor="middle" font-weight="normal" font-style="normal" stroke="#222" stroke-width="0.08">0</text>
<line x1="323.51" y1="342.2" x2="323.51" y2="344.5" stroke="#222" stroke-width="0.9"/>
<text x="323.51" y="354.0" font-size="6.4" fill="#222" text-anchor="middle" font-weight="normal" font-style="normal" stroke="#222" stroke-width="0.08">2</text>
<line x1="334.52" y1="342.2" x2="334.52" y2="344.5" stroke="#222" stroke-width="0.9"/>
<text x="334.52" y="354.0" font-size="6.4" fill="#222" text-anchor="middle" font-weight="normal" font-style="normal" stroke="#222" stroke-width="0.08">4</text>
<line x1="345.53" y1="342.2" x2="345.53" y2="344.5" stroke="#222" stroke-width="0.9"/>
<text x="345.53" y="354.0" font-size="6.4" fill="#222" text-anchor="middle" font-weight="normal" font-style="normal" stroke="#222" stroke-width="0.08">6</text>
<line x1="356.54" y1="342.2" x2="356.54" y2="344.5" stroke="#222" stroke-width="0.9"/>
<text x="356.54" y="354.0" font-size="6.4" fill="#222" text-anchor="middle" font-weight="normal" font-style="normal" stroke="#222" stroke-width="0.08">8</text>
<line x1="367.55" y1="342.2" x2="367.55" y2="344.5" stroke="#222" stroke-width="0.9"/>
<text x="367.55" y="354.0" font-size="6.4" fill="#222" text-anchor="middle" font-weight="normal" font-style="normal" stroke="#222" stroke-width="0.08">10</text>
<line x1="378.56" y1="342.2" x2="378.56" y2="344.5" stroke="#222" stroke-width="0.9"/>
<text x="378.56" y="354.0" font-size="6.4" fill="#222" text-anchor="middle" font-weight="normal" font-style="normal" stroke="#222" stroke-width="0.08">12</text>
<line x1="389.57" y1="342.2" x2="389.57" y2="344.5" stroke="#222" stroke-width="0.9"/>
<text x="389.57" y="354.0" font-size="6.4" fill="#222" text-anchor="middle" font-weight="normal" font-style="normal" stroke="#222" stroke-width="0.08">14</text>
<line x1="400.58" y1="342.2" x2="400.58" y2="344.5" stroke="#222" stroke-width="0.9"/>
<text x="400.58" y="354.0" font-size="6.4" fill="#222" text-anchor="middle" font-weight="normal" font-style="normal" stroke="#222" stroke-width="0.08">16</text>
<line x1="411.59000000000003" y1="342.2" x2="411.59000000000003" y2="344.5" stroke="#222" stroke-width="0.9"/>
<text x="411.59000000000003" y="354.0" font-size="6.4" fill="#222" text-anchor="middle" font-weight="normal" font-style="normal" stroke="#222" stroke-width="0.08">18</text>
<line x1="422.6" y1="342.2" x2="422.6" y2="344.5" stroke="#222" stroke-width="0.9"/>
<text x="422.6" y="354.0" font-size="6.4" fill="#222" text-anchor="middle" font-weight="normal" font-style="normal" stroke="#222" stroke-width="0.08">20</text>
<line x1="433.61" y1="342.2" x2="433.61" y2="344.5" stroke="#222" stroke-width="0.9"/>
<text x="433.61" y="354.0" font-size="6.4" fill="#222" text-anchor="middle" font-weight="normal" font-style="normal" stroke="#222" stroke-width="0.08">22</text>
<line x1="444.62" y1="342.2" x2="444.62" y2="344.5" stroke="#222" stroke-width="0.9"/>
<text x="444.62" y="354.0" font-size="6.4" fill="#222" text-anchor="middle" font-weight="normal" font-style="normal" stroke="#222" stroke-width="0.08">24</text>
<line x1="455.63" y1="342.2" x2="455.63" y2="344.5" stroke="#222" stroke-width="0.9"/>
<text x="455.63" y="354.0" font-size="6.4" fill="#222" text-anchor="middle" font-weight="normal" font-style="normal" stroke="#222" stroke-width="0.08">26</text>
<line x1="466.64" y1="342.2" x2="466.64" y2="344.5" stroke="#222" stroke-width="0.9"/>
<text x="466.64" y="354.0" font-size="6.4" fill="#222" text-anchor="middle" font-weight="normal" font-style="normal" stroke="#222" stroke-width="0.08">28</text>
<line x1="477.65" y1="342.2" x2="477.65" y2="344.5" stroke="#222" stroke-width="0.9"/>
<text x="477.65" y="354.0" font-size="6.4" fill="#222" text-anchor="middle" font-weight="normal" font-style="normal" stroke="#222" stroke-width="0.08">30</text>
<line x1="488.65999999999997" y1="342.2" x2="488.65999999999997" y2="344.5" stroke="#222" stroke-width="0.9"/>
<text x="488.65999999999997" y="354.0" font-size="6.4" fill="#222" text-anchor="middle" font-weight="normal" font-style="normal" stroke="#222" stroke-width="0.08">32</text>
<line x1="499.66999999999996" y1="342.2" x2="499.66999999999996" y2="344.5" stroke="#222" stroke-width="0.9"/>
<text x="499.66999999999996" y="354.0" font-size="6.4" fill="#222" text-anchor="middle" font-weight="normal" font-style="normal" stroke="#222" stroke-width="0.08">34</text>
<line x1="510.68" y1="342.2" x2="510.68" y2="344.5" stroke="#222" stroke-width="0.9"/>
<text x="510.68" y="354.0" font-size="6.4" fill="#222" text-anchor="middle" font-weight="normal" font-style="normal" stroke="#222" stroke-width="0.08">36</text>
<text x="412.7" y="364.5" font-size="9" fill="#111" text-anchor="middle" font-weight="normal" font-style="normal" textLength="20.8" lengthAdjust="spacingAndGlyphs" >Month</text>
<text x="0" y="0" font-size="8.9" fill="#111" text-anchor="middle" textLength="27.5" lengthAdjust="spacingAndGlyphs" transform="translate(284.8,285.3) rotate(-90)">Survival</text>
<text x="294" y="369" font-size="5.2" fill="#111" text-anchor="start" font-weight="normal" font-style="italic" textLength="22.8" lengthAdjust="spacingAndGlyphs" stroke="#111" stroke-width="0.08">Patients,n</text>
<text x="312.5" y="379.5" font-size="5.6" fill="#222" text-anchor="middle" font-weight="normal" font-style="normal" stroke="#222" stroke-width="0.08">27</text>
<text x="323.51" y="379.5" font-size="5.6" fill="#222" text-anchor="middle" font-weight="normal" font-style="normal" stroke="#222" stroke-width="0.08">27</text>
<text x="334.52" y="379.5" font-size="5.6" fill="#222" text-anchor="middle" font-weight="normal" font-style="normal" stroke="#222" stroke-width="0.08">25</text>
<text x="345.53" y="379.5" font-size="5.6" fill="#222" text-anchor="middle" font-weight="normal" font-style="normal" stroke="#222" stroke-width="0.08">24</text>
<text x="356.54" y="379.5" font-size="5.6" fill="#222" text-anchor="middle" font-weight="normal" font-style="normal" stroke="#222" stroke-width="0.08">20</text>
<text x="367.55" y="379.5" font-size="5.6" fill="#222" text-anchor="middle" font-weight="normal" font-style="normal" stroke="#222" stroke-width="0.08">16</text>
<text x="378.56" y="379.5" font-size="5.6" fill="#222" text-anchor="middle" font-weight="normal" font-style="normal" stroke="#222" stroke-width="0.08">13</text>
<text x="389.57" y="379.5" font-size="5.6" fill="#222" text-anchor="middle" font-weight="normal" font-style="normal" stroke="#222" stroke-width="0.08">12</text>
<text x="400.58" y="379.5" font-size="5.6" fill="#222" text-anchor="middle" font-weight="normal" font-style="normal" stroke="#222" stroke-width="0.08">10</text>
<text x="411.59000000000003" y="379.5" font-size="5.6" fill="#222" text-anchor="middle" font-weight="normal" font-style="normal" stroke="#222" stroke-width="0.08">9</text>
<text x="422.6" y="379.5" font-size="5.6" fill="#222" text-anchor="middle" font-weight="normal" font-style="normal" stroke="#222" stroke-width="0.08">9</text>
<text x="433.61" y="379.5" font-size="5.6" fill="#222" text-anchor="middle" font-weight="normal" font-style="normal" stroke="#222" stroke-width="0.08">5</text>
<text x="444.62" y="379.5" font-size="5.6" fill="#222" text-anchor="middle" font-weight="normal" font-style="normal" stroke="#222" stroke-width="0.08">5</text>
<text x="455.63" y="379.5" font-size="5.6" fill="#222" text-anchor="middle" font-weight="normal" font-style="normal" stroke="#222" stroke-width="0.08">5</text>
<text x="466.64" y="379.5" font-size="5.6" fill="#222" text-anchor="middle" font-weight="normal" font-style="normal" stroke="#222" stroke-width="0.08">5</text>
<text x="477.65" y="379.5" font-size="5.6" fill="#222" text-anchor="middle" font-weight="normal" font-style="normal" stroke="#222" stroke-width="0.08">5</text>
<text x="488.65999999999997" y="379.5" font-size="5.6" fill="#222" text-anchor="middle" font-weight="normal" font-style="normal" stroke="#222" stroke-width="0.08">5</text>
<text x="499.66999999999996" y="379.5" font-size="5.6" fill="#222" text-anchor="middle" font-weight="normal" font-style="normal" stroke="#222" stroke-width="0.08">5</text>
<text x="510.68" y="379.5" font-size="5.6" fill="#222" text-anchor="middle" font-weight="normal" font-style="normal" stroke="#222" stroke-width="0.08">1</text>
<path d="M312.8,231.4 L317,231.4 L317,235.1 L331.7,235.1 L331.7,239.3 L333.6,239.3 L333.6,243.3 L339.5,243.3 L339.5,247.2 L349.5,247.2 L349.5,251.4 L355,251.4 L355,255.7 L367.6,255.7 L367.6,260.7 L377.5,260.7 L377.5,265.5 L379.5,265.5 L379.5,270.6 L383.3,270.6 L383.3,275 L389,275 L389,280 L397,280 L397,285.4 L410.3,285.4 L410.3,290.7 L412,290.7 L412,296.3 L439,296.3 L439,305.4 L501.3,305.4 L501.3,342.2" fill="none" stroke="#000" stroke-width="1.5"/>
<path d="M312.8,231.4 L317,231.4 L317,232 L331.7,232 L331.7,234.6 L339.5,234.6 L339.5,237.1 L350.3,237.1 L350.3,239.7 L355,239.7 L355,242.8 L368.5,242.8 L368.5,246 L377.8,246 L377.8,250 L380,250 L380,254 L383,254 L383,256.7 L388.7,256.7 L388.7,261 L397,261 L397,265.4 L410.5,265.4 L410.5,269.8 L412,269.8 L412,275.2 L438.6,275.2 L438.6,282 L499.3,282" fill="none" stroke="#000" stroke-width="1.5" stroke-dasharray="3.5,3"/>
<path d="M317.5,231.4 L317.5,231.4 L317.5,256.8 L331.7,256.8 L331.7,260.7 L334,260.7 L334,265 L339.5,265 L339.5,269.7 L348.8,269.7 L348.8,274.3 L355,274.3 L355,279.3 L367.5,279.3 L367.5,284.2 L377.2,284.2 L377.2,289 L380,289 L380,293.5 L383.5,293.5 L383.5,298.6 L389,298.6 L389,304 L397.2,304 L397.2,308.9 L410.3,308.9 L410.3,318.6 L438.8,318.6 L438.8,327 L499.3,327" fill="none" stroke="#000" stroke-width="1.5" stroke-dasharray="3.5,3"/>
<circle cx="461.8" cy="305.4" r="1.3" fill="#000"/>
<circle cx="463.4" cy="305.4" r="1.3" fill="#000"/>
<circle cx="473.5" cy="305.4" r="1.3" fill="#000"/>
<rect x="0.5" y="0.5" width="519" height="386" fill="none" stroke="#111" stroke-width="1.2"/>
</svg></body></html>
